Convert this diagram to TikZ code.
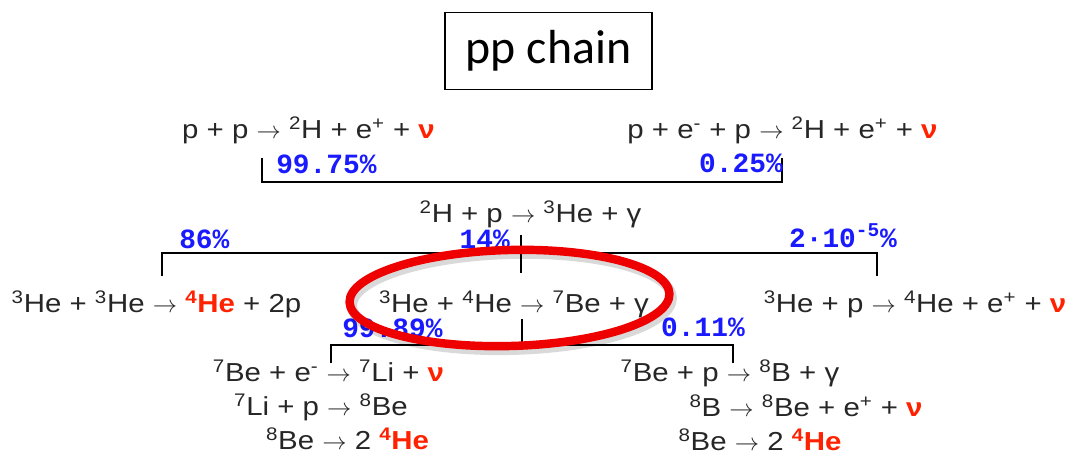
\documentclass[tikz,border=0pt]{standalone}
\usepackage{fontspec}
\newfontfamily\rxnfont[FakeStretch=1.13]{Liberation Sans}
\newfontfamily\pctfont{Liberation Mono}
\newfontfamily\titlefont{Carlito}

\newcommand{\iso}[2]{\textsuperscript{#1}#2}
\newcommand{\nuon}{{\color{nured}\bfseries ν}}
\newcommand{\hefour}{{\color{nured}\bfseries\textsuperscript{4}He}}
\newcommand{\yields}{$\rightarrow$}

\begin{document}
\begin{tikzpicture}[x=0.025cm, y=-0.025cm]

% ---------------------------------------------------------------- colours
\definecolor{ink}{HTML}{262626}      % the reactions
\definecolor{nured}{HTML}{FF2200}    % neutrinos and helium-4
\definecolor{pctblue}{HTML}{1A1AFF}  % branching ratios
\definecolor{ringred}{HTML}{EE0000}  % the highlight ring

% ================================================================
% Geometry, in pixels of the 1069 x 462 frame (y runs downwards).
%
%   row baselines   138, 222, 312, 381, 415, 449
%   branch bars     y = 182 (262..782), 253 (162..877), 345 (331..733)
%   ticks drop / rise about 23 px from each bar
%   ring centred on the 7Be step, (509, 298), half axes 159 x 47
% ================================================================

\tikzset{
    rxn/.style={font=\rxnfont\fontsize{18.5}{22}\selectfont, text=ink,
        inner sep=0pt, anchor=base},
    pct/.style={font=\pctfont\bfseries\fontsize{19.8}{22}\selectfont,
        text=pctblue, inner sep=0pt},
    branch/.style={draw=black, line width=2pt},
    titlebox/.style={draw=black, line width=1pt, fill=white,
        font=\titlefont\fontsize{34}{40}\selectfont,
        minimum width=5.175cm, minimum height=1.93cm, inner sep=0pt},
    ring/.style={draw=ringred, line width=6pt},
    ringshadow/.style={draw=black, line width=7pt, opacity=0.15},
}

\useasboundingbox (0,0) rectangle (1069,462);

% ---------------------------------------------------------------- title
\node[titlebox] (title) at (548.5,51) {pp chain};

% ---------------------------------------------------------------- reactions
\node[rxn] (r1a) at (308.5,138) {p + p \yields{} \iso{2}{H} + e\textsuperscript{+} + \nuon};
\node[rxn] (r1b) at (782.5,138) {p + e\textsuperscript{-} + p \yields{} \iso{2}{H} + e\textsuperscript{+} + \nuon};

\node[rxn] (r2) at (530.5,222) {\iso{2}{H} + p \yields{} \iso{3}{He} + γ};

\node[rxn] (r3a) at (156.5,312) {\iso{3}{He} + \iso{3}{He} \yields{} \hefour{} + 2p};
\node[rxn] (r3b) at (514,312) {\iso{3}{He} + \iso{4}{He} \yields{} \iso{7}{Be} + γ};
\node[rxn] (r3c) at (915,312) {\iso{3}{He} + p \yields{} \iso{4}{He} + e\textsuperscript{+} + \nuon};

\node[rxn] (r4a) at (328.5,381) {\iso{7}{Be} + e\textsuperscript{-} \yields{} \iso{7}{Li} + \nuon};
\node[rxn] (r5a) at (321,415) {\iso{7}{Li} + p \yields{} \iso{8}{Be}};
\node[rxn] (r6a) at (347.5,449) {\iso{8}{Be} \yields{} 2 \hefour};

\node[rxn] (r4b) at (730,381) {\iso{7}{Be} + p \yields{} \iso{8}{B} + γ};
\node[rxn] (r5b) at (806,416) {\iso{8}{B} \yields{} \iso{8}{Be} + e\textsuperscript{+} + \nuon};
\node[rxn] (r6b) at (760,450) {\iso{8}{Be} \yields{} 2 \hefour};

% ---------------------------------------------------------------- branches
\coordinate (s1l) at (262,158);
\coordinate (s1r) at (782,158);
\draw[branch] (s1l) -- ++(0,24) -| (s1r);

\coordinate (s2l) at (162,276);
\coordinate (s2r) at (877,276);
\coordinate (s2t) at (521,235);
\coordinate (s2b) at (521,273);
\draw[branch] (s2l) -- ++(0,-23) -| (s2r);
\draw[branch] (s2t) -- (s2b);

\coordinate (s3l) at (331,363);
\coordinate (s3r) at (733,363);
\coordinate (s3t) at (522,319);
\draw[branch] (s3l) -- ++(0,-18) -| (s3r);
\draw[branch] (s3t) -- ++(0,26);

% ---------------------------------------------------------------- ratios
\node[pct, anchor=base west] (p1a) at (276,173) {99.75\%};
\node[pct, anchor=base east] (p1b) at (783,172) {0.25\%};
\node[pct, anchor=base west] (p2a) at (179,248) {86\%};
\node[pct, anchor=base east] (p2b) at (510,248) {14\%};
\node[pct, anchor=base east] (p2c) at (897,247) {2·10\textsuperscript{-5}\%};
\node[pct, anchor=base west] (p3a) at (342,337) {99.89\%};
\node[pct, anchor=base east] (p3b) at (745,336) {0.11\%};

% ---------------------------------------------------------------- ring
\draw[ringshadow, shift={(512,302)}, rotate=1.5] (0,0) ellipse [x radius=160, y radius=48];
\draw[ring, shift={(509.5,298)}, rotate=1.5] (0,0) ellipse [x radius=160, y radius=48];

\end{tikzpicture}
\end{document}
